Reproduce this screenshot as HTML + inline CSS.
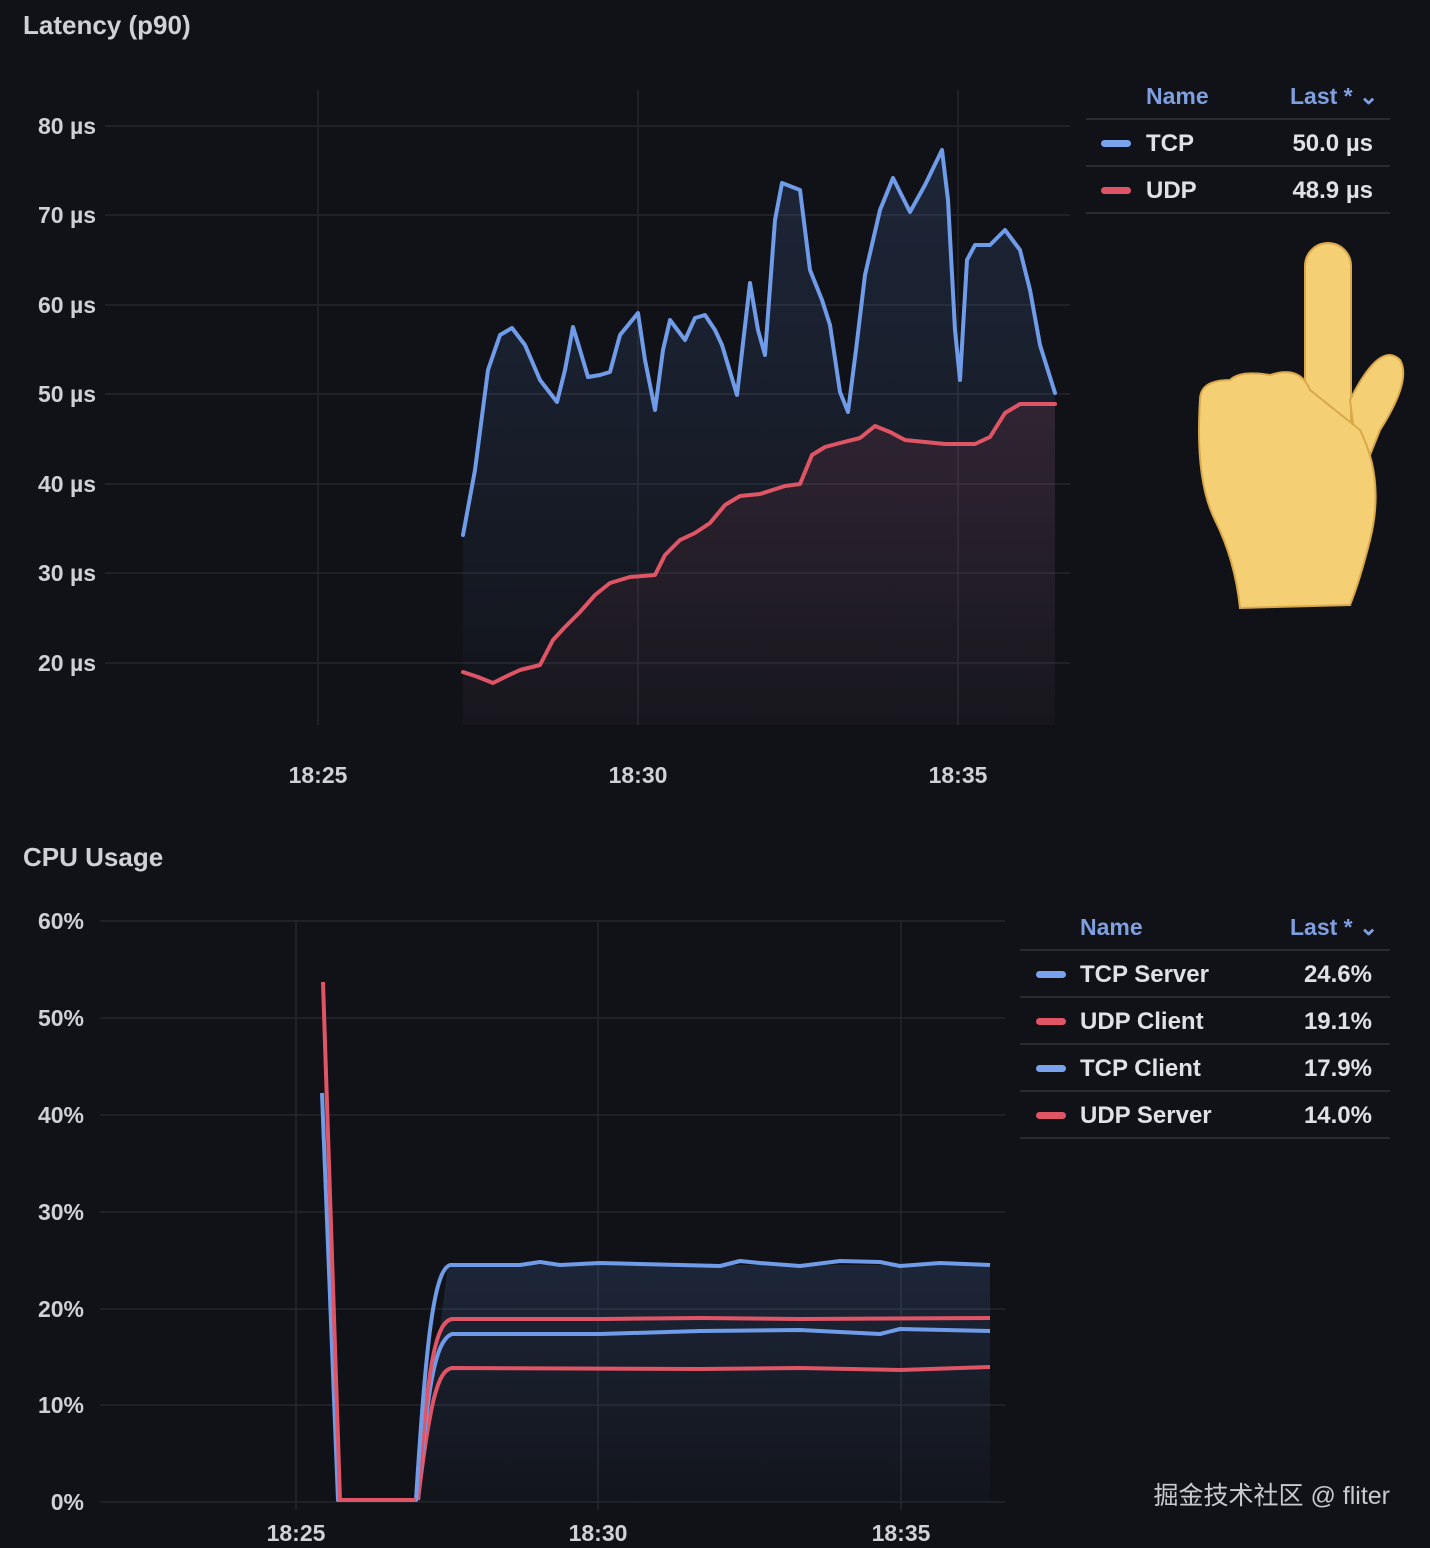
<!DOCTYPE html>
<html><head><meta charset="utf-8"><style>
body{margin:0;background:#111217;}
svg{display:block}
text{font-family:"Liberation Sans","Noto Sans CJK SC",sans-serif;font-weight:bold}
</style></head><body>
<svg width="1430" height="1548" viewBox="0 0 1430 1548" xmlns="http://www.w3.org/2000/svg">
<defs>
<linearGradient id="gb" x1="0" y1="0" x2="0" y2="1"><stop offset="0" stop-color="#5b8ee6" stop-opacity="0.16"/><stop offset="1" stop-color="#5b8ee6" stop-opacity="0.02"/></linearGradient>
<linearGradient id="gr" x1="0" y1="0" x2="0" y2="1"><stop offset="0" stop-color="#e05566" stop-opacity="0.12"/><stop offset="1" stop-color="#e05566" stop-opacity="0.02"/></linearGradient>
</defs>
<rect width="1430" height="1548" fill="#111217"/>
<text x="23" y="34" fill="#d0d1d6" font-size="26">Latency (p90)</text>
<g stroke="#25262c" stroke-width="1.5">
<line x1="105" x2="1070" y1="126" y2="126"/><line x1="105" x2="1070" y1="215" y2="215"/><line x1="105" x2="1070" y1="305" y2="305"/><line x1="105" x2="1070" y1="394" y2="394"/><line x1="105" x2="1070" y1="484" y2="484"/><line x1="105" x2="1070" y1="573" y2="573"/><line x1="105" x2="1070" y1="663" y2="663"/>
<line x1="318" x2="318" y1="90" y2="725"/><line x1="638" x2="638" y1="90" y2="725"/><line x1="958" x2="958" y1="90" y2="725"/>
</g>
<g fill="#d0d1d6" font-size="23" text-anchor="end">
<text x="96" y="134">80 µs</text><text x="96" y="223">70 µs</text><text x="96" y="313">60 µs</text><text x="96" y="402">50 µs</text><text x="96" y="492">40 µs</text><text x="96" y="581">30 µs</text><text x="96" y="671">20 µs</text>
</g>
<g fill="#d0d1d6" font-size="23" text-anchor="middle">
<text x="318" y="783">18:25</text><text x="638" y="783">18:30</text><text x="958" y="783">18:35</text>
</g>
<path d="M463,535 L475,470 488,370 500,335 512,328 525,345 540,380 557,402 565,370 573,327 580,350 588,377 600,375 610,372 620,335 638,313 645,360 655,410 663,350 670,320 685,340 695,318 705,315 715,330 722,345 737,395 750,283 758,330 765,355 775,220 782,183 800,190 810,270 822,300 830,325 840,392 848,412 856,350 865,275 880,210 893,178 910,212 925,185 942,150 948,200 955,330 960,380 967,260 975,245 990,245 1005,230 1020,250 1030,290 1040,345 1055,393 L1055,725 L463,725Z" fill="url(#gb)"/>
<path d="M463,672 L478,677 493,683 505,677 520,670 540,665 553,640 565,627 580,612 595,595 610,583 630,577 655,575 665,555 680,540 695,533 710,523 725,505 740,496 760,494 785,486 800,484 812,455 825,447 840,443 860,438 875,426 890,432 905,440 925,442 945,444 975,444 990,437 1005,413 1020,404 1055,404 L1055,725 L463,725Z" fill="url(#gr)"/>
<g fill="none" stroke-width="4" stroke-linejoin="round" stroke-linecap="round">
<path stroke="#6f9be8" d="M463,535 L475,470 488,370 500,335 512,328 525,345 540,380 557,402 565,370 573,327 580,350 588,377 600,375 610,372 620,335 638,313 645,360 655,410 663,350 670,320 685,340 695,318 705,315 715,330 722,345 737,395 750,283 758,330 765,355 775,220 782,183 800,190 810,270 822,300 830,325 840,392 848,412 856,350 865,275 880,210 893,178 910,212 925,185 942,150 948,200 955,330 960,380 967,260 975,245 990,245 1005,230 1020,250 1030,290 1040,345 1055,393"/>
<path stroke="#e05566" d="M463,672 L478,677 493,683 505,677 520,670 540,665 553,640 565,627 580,612 595,595 610,583 630,577 655,575 665,555 680,540 695,533 710,523 725,505 740,496 760,494 785,486 800,484 812,455 825,447 840,443 860,438 875,426 890,432 905,440 925,442 945,444 975,444 990,437 1005,413 1020,404 1055,404"/>
</g>
<!-- legend 1 -->
<text x="1146" y="104" fill="#7f9fe0" font-size="23">Name</text>
<text x="1290" y="104" fill="#7f9fe0" font-size="23">Last * ⌄</text>
<g stroke="#2a2b31" stroke-width="2"><line x1="1086" x2="1390" y1="119" y2="119"/><line x1="1086" x2="1390" y1="166" y2="166"/><line x1="1086" x2="1390" y1="213" y2="213"/></g>
<rect x="1101" y="140" width="30" height="7" rx="3.5" fill="#7aa3ee"/><rect x="1101" y="187" width="30" height="7" rx="3.5" fill="#e05566"/>
<g fill="#e0e1e5" font-size="24"><text x="1146" y="151">TCP</text><text x="1146" y="198">UDP</text></g>
<g fill="#e0e1e5" font-size="24" text-anchor="end"><text x="1373" y="151">50.0 µs</text><text x="1373" y="198">48.9 µs</text></g>
<!-- hand -->
<g fill="#f4cf74" stroke="#d9a84a" stroke-width="2">
<rect x="1305" y="243" width="46" height="220" rx="23"/>
<path d="M1350,400 Q1380,340 1400,360 Q1412,380 1380,430 L1360,480Z"/>
<path d="M1200,400 Q1200,380 1230,380 Q1240,370 1270,375 Q1300,365 1310,390 L1360,430 Q1385,480 1370,540 Q1360,580 1350,605 L1240,608 Q1235,560 1215,520 Q1195,480 1200,400Z"/>
</g>
<!-- CPU -->
<text x="23" y="866" fill="#d0d1d6" font-size="26">CPU Usage</text>
<g stroke="#25262c" stroke-width="1.5">
<line x1="100" x2="1005" y1="921" y2="921"/><line x1="100" x2="1005" y1="1018" y2="1018"/><line x1="100" x2="1005" y1="1115" y2="1115"/><line x1="100" x2="1005" y1="1212" y2="1212"/><line x1="100" x2="1005" y1="1309" y2="1309"/><line x1="100" x2="1005" y1="1405" y2="1405"/><line x1="100" x2="1005" y1="1502" y2="1502"/>
<line x1="296" x2="296" y1="920" y2="1510"/><line x1="598" x2="598" y1="920" y2="1510"/><line x1="901" x2="901" y1="920" y2="1510"/>
</g>
<g fill="#d0d1d6" font-size="23" text-anchor="end">
<text x="84" y="929">60%</text><text x="84" y="1026">50%</text><text x="84" y="1123">40%</text><text x="84" y="1220">30%</text><text x="84" y="1317">20%</text><text x="84" y="1413">10%</text><text x="84" y="1510">0%</text>
</g>
<g fill="#d0d1d6" font-size="23" text-anchor="middle">
<text x="296" y="1541">18:25</text><text x="598" y="1541">18:30</text><text x="901" y="1541">18:35</text>
</g>
<path d="M418,1500 L448,1265 L990,1265 L990,1502 L418,1502Z" fill="url(#gb)"/>
<g fill="none" stroke-width="4" stroke-linejoin="round">
<path stroke="#e05566" d="M418,1500 C430,1400 438,1370 452,1368 L700,1369 800,1368 900,1370 990,1367"/>
<path stroke="#6f9be8" d="M418,1500 C428,1380 436,1340 452,1334 L600,1334 700,1331 800,1330 880,1334 900,1329 990,1331"/>
<path stroke="#e05566" d="M418,1500 C428,1360 436,1322 452,1319 L600,1319 700,1318 800,1319 990,1318"/>
<path stroke="#6f9be8" d="M322,1093 L338,1500 L416,1500 C426,1340 434,1270 450,1265 L520,1265 540,1262 560,1265 600,1263 720,1266 740,1261 760,1263 800,1266 840,1261 880,1262 900,1266 940,1263 990,1265"/>
<path stroke="#e05566" d="M323,982 L340,1500 L416,1500"/>
</g>
<!-- legend 2 -->
<text x="1080" y="935" fill="#7f9fe0" font-size="23">Name</text>
<text x="1290" y="935" fill="#7f9fe0" font-size="23">Last * ⌄</text>
<g stroke="#2a2b31" stroke-width="2"><line x1="1020" x2="1390" y1="950" y2="950"/><line x1="1020" x2="1390" y1="997" y2="997"/><line x1="1020" x2="1390" y1="1044" y2="1044"/><line x1="1020" x2="1390" y1="1091" y2="1091"/><line x1="1020" x2="1390" y1="1138" y2="1138"/></g>
<rect x="1036" y="971" width="30" height="7" rx="3.5" fill="#7aa3ee"/><rect x="1036" y="1018" width="30" height="7" rx="3.5" fill="#e05566"/><rect x="1036" y="1065" width="30" height="7" rx="3.5" fill="#7aa3ee"/><rect x="1036" y="1112" width="30" height="7" rx="3.5" fill="#e05566"/>
<g fill="#e0e1e5" font-size="24"><text x="1080" y="982">TCP Server</text><text x="1080" y="1029">UDP Client</text><text x="1080" y="1076">TCP Client</text><text x="1080" y="1123">UDP Server</text></g>
<g fill="#e0e1e5" font-size="24" text-anchor="end"><text x="1372" y="982">24.6%</text><text x="1372" y="1029">19.1%</text><text x="1372" y="1076">17.9%</text><text x="1372" y="1123">14.0%</text></g>
<text x="1390" y="1504" fill="#c8c9cc" font-size="25" font-weight="normal" text-anchor="end" style="font-weight:normal">掘金技术社区 @ fliter</text>
</svg>
</body></html>
